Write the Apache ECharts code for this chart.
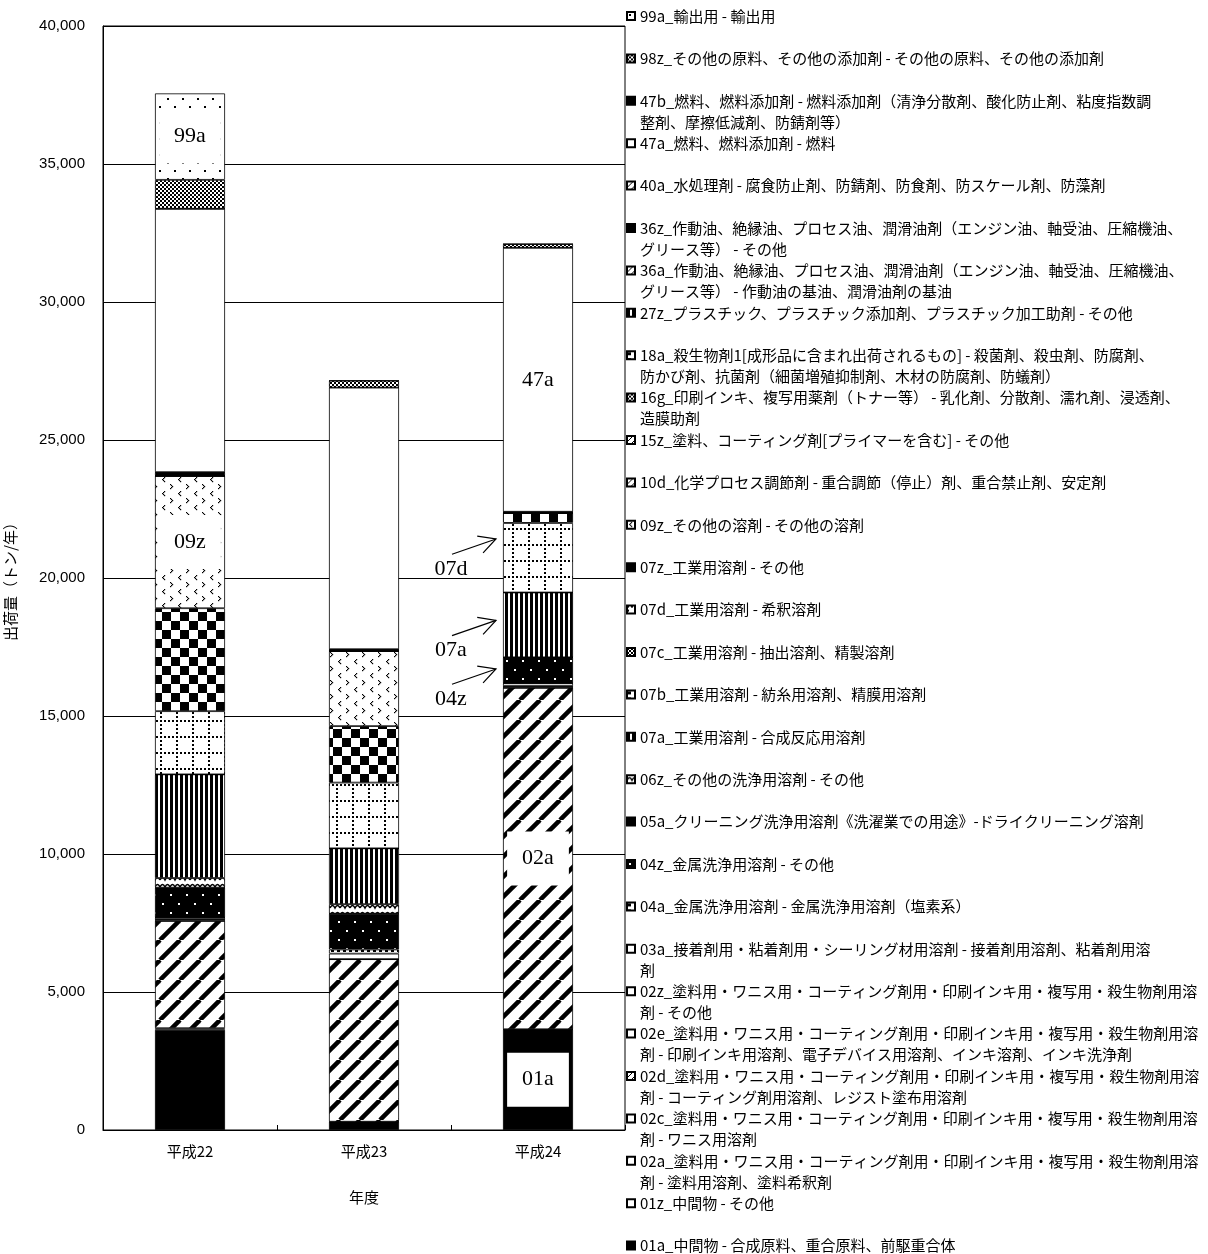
<!DOCTYPE html>
<html><head><meta charset="utf-8">
<script src="https://cdn.jsdelivr.net/npm/echarts@6/dist/echarts.min.js"></script>
<style>html,body{margin:0;padding:0;background:#fff}#c{width:1208px;height:1254px}</style>
</head><body><div id="c"></div>
<script>
// ---------------- DATA ----------------
const categories = ['平成22', '平成23', '平成24'];
const yAxisMin = 0, yAxisMax = 40000, yAxisStep = 5000;

// stacking order bottom -> top
const codes = ['01a','01z','02a','02c','02d','02e','02z','03a','04a','04z','05a','06z','07a','07b','07c','07d','07z','09z','10d','15z','16g','18a','27z','36a','36z','40a','47a','47b','98z','99a'];

const names = [
  '01a_中間物 - 合成原料、重合原料、前駆重合体',
  '01z_中間物 - その他',
  '02a_塗料用・ワニス用・コーティング剤用・印刷インキ用・複写用・殺生物剤用溶\n剤 - 塗料用溶剤、塗料希釈剤',
  '02c_塗料用・ワニス用・コーティング剤用・印刷インキ用・複写用・殺生物剤用溶\n剤 - ワニス用溶剤',
  '02d_塗料用・ワニス用・コーティング剤用・印刷インキ用・複写用・殺生物剤用溶\n剤 - コーティング剤用溶剤、レジスト塗布用溶剤',
  '02e_塗料用・ワニス用・コーティング剤用・印刷インキ用・複写用・殺生物剤用溶\n剤 - 印刷インキ用溶剤、電子デバイス用溶剤、インキ溶剤、インキ洗浄剤',
  '02z_塗料用・ワニス用・コーティング剤用・印刷インキ用・複写用・殺生物剤用溶\n剤 - その他',
  '03a_接着剤用・粘着剤用・シーリング材用溶剤 - 接着剤用溶剤、粘着剤用溶\n剤',
  '04a_金属洗浄用溶剤 - 金属洗浄用溶剤（塩素系）',
  '04z_金属洗浄用溶剤 - その他',
  '05a_クリーニング洗浄用溶剤《洗濯業での用途》-ドライクリーニング溶剤',
  '06z_その他の洗浄用溶剤 - その他',
  '07a_工業用溶剤 - 合成反応用溶剤',
  '07b_工業用溶剤 - 紡糸用溶剤、精膜用溶剤',
  '07c_工業用溶剤 - 抽出溶剤、精製溶剤',
  '07d_工業用溶剤 - 希釈溶剤',
  '07z_工業用溶剤 - その他',
  '09z_その他の溶剤 - その他の溶剤',
  '10d_化学プロセス調節剤 - 重合調節（停止）剤、重合禁止剤、安定剤',
  '15z_塗料、コーティング剤[プライマーを含む] - その他',
  '16g_印刷インキ、複写用薬剤（トナー等） - 乳化剤、分散剤、濡れ剤、浸透剤、\n造膜助剤',
  '18a_殺生物剤1[成形品に含まれ出荷されるもの] - 殺菌剤、殺虫剤、防腐剤、\n防かび剤、抗菌剤（細菌増殖抑制剤、木材の防腐剤、防蟻剤）',
  '27z_プラスチック、プラスチック添加剤、プラスチック加工助剤 - その他',
  '36a_作動油、絶縁油、プロセス油、潤滑油剤（エンジン油、軸受油、圧縮機油、\nグリース等） - 作動油の基油、潤滑油剤の基油',
  '36z_作動油、絶縁油、プロセス油、潤滑油剤（エンジン油、軸受油、圧縮機油、\nグリース等） - その他',
  '40a_水処理剤 - 腐食防止剤、防錆剤、防食剤、防スケール剤、防藻剤',
  '47a_燃料、燃料添加剤 - 燃料',
  '47b_燃料、燃料添加剤 - 燃料添加剤（清浄分散剤、酸化防止剤、粘度指数調\n整剤、摩擦低減剤、防錆剤等）',
  '98z_その他の原料、その他の添加剤 - その他の原料、その他の添加剤',
  '99a_輸出用 - 輸出用'
];

// values [平成22, 平成23, 平成24] (トン/年)
const v01a = [3630, 300, 3650];
const v01z = [60, 0, 0];
const v02a = [3890, 5890, 12375];
const v02c = [0, 0, 0];
const v02d = [0, 0, 0];
const v02e = [60, 0, 60];
const v02z = [0, 0, 0];
const v03a = [60, 200, 100];
const v04a = [0, 150, 0];
const v04z = [1080, 1295, 942];
const v05a = [0, 0, 0];
const v06z = [350, 349, 0];
const v07a = [3755, 2021, 2348];
const v07b = [0, 0, 0];
const v07c = [0, 0, 0];
const v07d = [2290, 2382, 2518];
const v07z = [3730, 2047, 365];
const v09z = [4800, 2719, 0];
const v10d = [0, 0, 0];
const v15z = [0, 0, 0];
const v16g = [0, 0, 0];
const v18a = [0, 0, 0];
const v27z = [0, 0, 0];
const v36a = [0, 0, 0];
const v36z = [130, 67, 42];
const v40a = [0, 0, 0];
const v47a = [9543, 9480, 9567];
const v47b = [0, 0, 0];
const v98z = [1048, 250, 133];
const v99a = [3132, 0, 0];

const values = [v01a,v01z,v02a,v02c,v02d,v02e,v02z,v03a,v04a,v04z,v05a,v06z,v07a,v07b,v07c,v07d,v07z,v09z,v10d,v15z,v16g,v18a,v27z,v36a,v36z,v40a,v47a,v47b,v98z,v99a];

// in-bar labels: [series code, category index]
const barLabels = [['99a', 0], ['09z', 0], ['47a', 2], ['02a', 2], ['01a', 2]];
// arrow annotations on 平成24: [series code, relative height in the segment]
const arrowNotes = [['07d', 0.77], ['07a', 0.57], ['04z', 0.55]];

// ---------------- PATTERNS ----------------
function mk(w, h, draw, bg) {
  const c = document.createElement('canvas');
  c.width = w; c.height = h;
  const g = c.getContext('2d');
  g.fillStyle = bg || '#fff'; g.fillRect(0, 0, w, h);
  g.fillStyle = '#000'; g.strokeStyle = '#000';
  draw(g, w, h);
  return { image: c, repeat: 'repeat' };
}
const PAT = {
  black: '#000',
  white: '#fff',
  diag: mk(20, 20, g => { g.lineWidth = 4.5; for (const k of [-20, 0, 20]) { g.beginPath(); g.moveTo(k, 20); g.lineTo(k + 20, 0); g.stroke(); } }),
  blackDots: mk(16, 18, g => { g.fillStyle = '#fff'; g.fillRect(2, 3, 2, 2); g.fillRect(10, 12, 2, 2); }, '#000'),
  wavy: mk(10, 7, g => { g.lineWidth = 1.6; g.beginPath(); g.moveTo(0, 5); g.quadraticCurveTo(2.5, 0, 5, 5); g.quadraticCurveTo(7.5, 0, 10, 5); g.stroke(); }),
  vstripes: mk(5, 4, g => { g.fillRect(0, 0, 3, 4); }),
  dotgrid: mk(16, 16, g => { for (let i = 0; i < 16; i += 4) { g.fillRect(i, 0, 2, 2); g.fillRect(0, i, 2, 2); } }),
  checker: mk(18, 18, g => { g.fillRect(0, 0, 9, 9); g.fillRect(9, 9, 9, 9); }),
  chev: mk(16, 14, g => {
    const lt = (x, y) => { g.fillRect(x + 2, y, 1.2, 1.2); g.fillRect(x + 1, y + 1, 1.2, 1.2); g.fillRect(x, y + 2, 1.2, 1.2); g.fillRect(x + 1, y + 3, 1.2, 1.2); g.fillRect(x + 2, y + 4, 1.2, 1.2); };
    const gt = (x, y) => { g.fillRect(x, y, 1.2, 1.2); g.fillRect(x + 1, y + 1, 1.2, 1.2); g.fillRect(x + 2, y + 2, 1.2, 1.2); g.fillRect(x + 1, y + 3, 1.2, 1.2); g.fillRect(x, y + 4, 1.2, 1.2); };
    lt(2, 1); gt(10, 8);
  }),
  fine: mk(4, 4, g => { g.fillRect(0, 0, 2, 2); g.fillRect(2, 2, 2, 2); }),
  sparse: mk(15, 16, g => { g.fillRect(2, 2, 2, 2); g.fillRect(9, 10, 2, 2); }),
  squares: mk(6, 6, g => { g.fillRect(1, 1, 3, 3); }),
  hatch: mk(6, 6, g => { g.lineWidth = 1; g.beginPath(); g.moveTo(0, 6); g.lineTo(6, 0); g.stroke(); })
};
const seriesPattern = {
  '01a': PAT.black, '01z': PAT.white, '02a': PAT.diag, '02c': PAT.white, '02d': PAT.hatch,
  '02e': PAT.white, '02z': PAT.white, '03a': PAT.white, '04a': PAT.squares, '04z': PAT.blackDots,
  '05a': PAT.black, '06z': PAT.wavy, '07a': PAT.vstripes, '07b': PAT.squares, '07c': PAT.fine,
  '07d': PAT.dotgrid, '07z': PAT.checker, '09z': PAT.chev, '10d': PAT.hatch, '15z': PAT.hatch,
  '16g': PAT.fine, '18a': PAT.squares, '27z': PAT.vstripes, '36a': PAT.hatch, '36z': PAT.black,
  '40a': PAT.hatch, '47a': PAT.white, '47b': PAT.black, '98z': PAT.fine, '99a': PAT.sparse
};

// ---------------- CHART ----------------
const chart = echarts.init(document.getElementById('c'), null, { renderer: 'canvas' });
const CJK = '"Noto Sans CJK JP", sans-serif';
const SERIF = '"Liberation Serif", "DejaVu Serif", serif';
const BAR_W = 70;

const series = codes.map((code, i) => ({
  name: names[i],
  type: 'bar',
  stack: 'total',
  barWidth: BAR_W,
  emphasis: { disabled: true },
  itemStyle: { color: seriesPattern[code], borderColor: '#000', borderWidth: 0.8 },
  data: values[i].map((v, ci) => {
    const lab = barLabels.find(b => b[0] === code && b[1] === ci);
    if (!lab) return v;
    return {
      value: v,
      label: {
        show: true, position: 'inside', formatter: code,
        fontFamily: SERIF, fontSize: 22, color: '#000',
        backgroundColor: '#fff', padding: [16, 15]
      }
    };
  })
}));

const LEG_STEP = 42.4, LEG_FIRST = 16;
const legends = codes.map((code, i) => {
  const j = codes.length - 1 - i;
  const c = LEG_FIRST + j * LEG_STEP;
  const multi = names[i].indexOf('\n') >= 0;
  return {
    data: [names[i]],
    left: 626,
    top: multi ? c - 31.5 : c - 10.5,
    orient: 'vertical',
    padding: 0,
    itemGap: 0,
    itemWidth: 8,
    itemHeight: 8,
    icon: 'rect',
    selectedMode: false,
    formatter: n => (n.indexOf('\n') >= 0 ? '\n' + n : n),
    textStyle: { fontFamily: CJK, fontSize: 15, color: '#000', lineHeight: 21 }
  };
});

chart.setOption({
  animation: false,
  backgroundColor: '#fff',
  grid: { left: 103, right: 583, top: 26, bottom: 124, show: true, borderColor: '#000', borderWidth: 1, backgroundColor: 'transparent' },
  legend: legends,
  xAxis: {
    type: 'category',
    data: categories,
    name: '年度',
    nameLocation: 'middle',
    nameGap: 60,
    nameTextStyle: { fontFamily: CJK, fontSize: 15, color: '#000' },
    axisLine: { lineStyle: { color: '#000', width: 1 } },
    axisTick: { show: true, inside: true, length: 5, lineStyle: { color: '#000' } },
    axisLabel: { margin: 14, fontFamily: CJK, fontSize: 15, color: '#000' }
  },
  yAxis: {
    type: 'value',
    min: yAxisMin, max: yAxisMax, interval: yAxisStep,
    name: '出荷量（トン/年）',
    nameLocation: 'middle',
    nameRotate: 90,
    nameGap: 85,
    nameTextStyle: { fontFamily: CJK, fontSize: 15, color: '#000' },
    axisLine: { show: true, lineStyle: { color: '#000', width: 1 } },
    axisTick: { show: false },
    splitLine: { show: true, lineStyle: { color: '#000', width: 1 } },
    axisLabel: { margin: 18, fontFamily: '"Liberation Sans", Arial, sans-serif', fontSize: 15, color: '#000',
      formatter: v => v.toLocaleString('en-US') }
  },
  series: series
});

// arrow annotations anchored to segments of the 平成24 bar
const graphics = [];
const ci = 2;
arrowNotes.forEach(([code, frac]) => {
  const idx = codes.indexOf(code);
  let base = 0;
  for (let k = 0; k < idx; k++) base += values[k][ci];
  const anchor = base + frac * values[idx][ci];
  const p = chart.convertToPixel({ xAxisIndex: 0, yAxisIndex: 0 }, [categories[ci], anchor]);
  const tx = p[0] - BAR_W / 2 - 7, ty = p[1];
  const sx = tx - 44, sy = ty + 15.3;
  const a0 = Math.atan2(sy - ty, sx - tx);
  const hl = 19, sp = 28 * Math.PI / 180;
  graphics.push({ type: 'line', shape: { x1: sx, y1: sy, x2: tx, y2: ty }, style: { stroke: '#000', lineWidth: 1.2 } });
  graphics.push({ type: 'polyline', shape: { points: [[tx + hl * Math.cos(a0 + sp), ty + hl * Math.sin(a0 + sp)], [tx, ty], [tx + hl * Math.cos(a0 - sp), ty + hl * Math.sin(a0 - sp)]] }, style: { stroke: '#000', lineWidth: 1.2, fill: null } });
  graphics.push({ type: 'text', x: tx - 45, y: ty + 30, style: { text: code, font: '22px ' + SERIF, fill: '#000', align: 'center', verticalAlign: 'middle' } });
});
chart.setOption({ graphic: graphics });
</script>
</body></html>
